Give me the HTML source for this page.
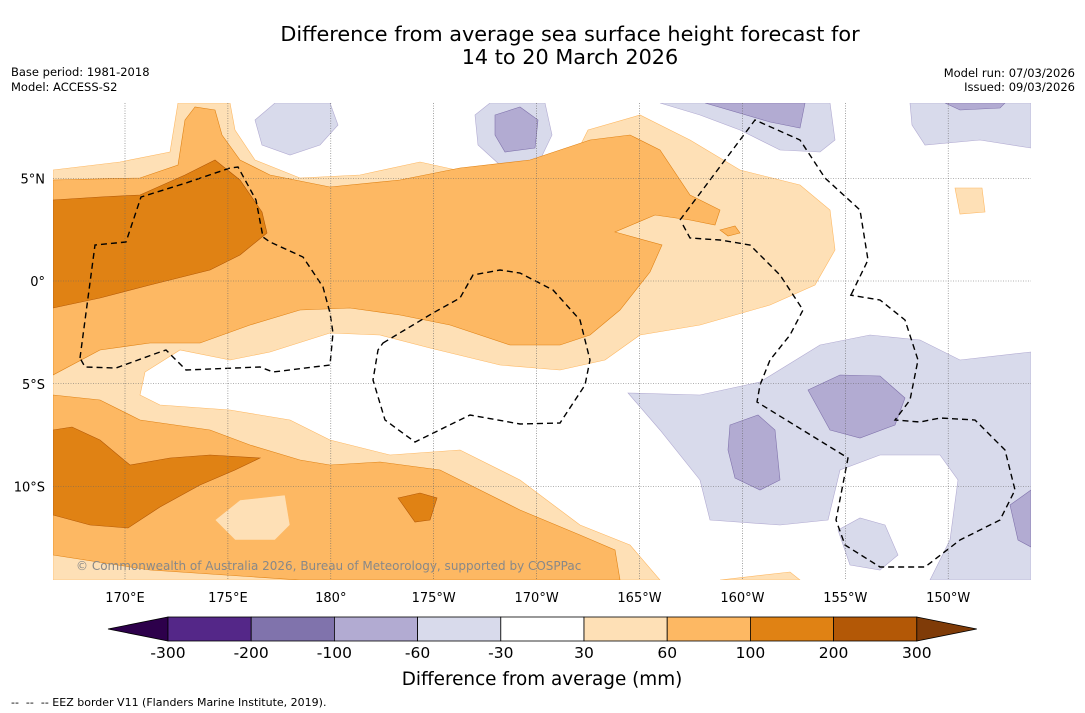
<!DOCTYPE html>
<html><head><meta charset="utf-8"><style>
body{margin:0;background:#fff;font-family:"Liberation Sans","DejaVu Sans",sans-serif}
svg{display:block}
</style></head><body>
<svg width="1085" height="713" viewBox="0 0 1085 713" xmlns="http://www.w3.org/2000/svg" font-family="DejaVu Sans, Liberation Sans, sans-serif">
<rect width="1085" height="713" fill="#fff"/>
<text x="570" y="41" font-size="20.8" text-anchor="middle">Difference from average sea surface height forecast for</text>
<text x="570" y="64" font-size="20.8" text-anchor="middle">14 to 20 March 2026</text>
<text x="11" y="76" font-size="11.5">Base period: 1981-2018</text>
<text x="11" y="91" font-size="11.5">Model: ACCESS-S2</text>
<text x="1075" y="77" font-size="11.5" text-anchor="end">Model run: 07/03/2026</text>
<text x="1075" y="91" font-size="11.5" text-anchor="end">Issued: 09/03/2026</text>

<defs><clipPath id="mc"><rect x="53" y="103" width="978" height="477"/></clipPath></defs>
<g clip-path="url(#mc)" stroke-width="0.6">
<g fill="#d8daeb" stroke="#b2abd2">
<path d="M255,120 L275,103 L330,103 L338,125 L320,145 L290,155 L262,145Z"/>
<path d="M475,115 L490,103 L545,103 L552,135 L540,160 L500,165 L478,145Z"/>
<path d="M660,103 L830,103 L835,140 L820,152 L780,150 L740,130 L700,115Z"/>
<path d="M910,103 L1031,103 L1031,148 L980,140 L925,145 L912,125Z"/>
<path d="M628,393 L700,395 L760,382 L820,345 L870,335 L920,340 L960,360 L1031,352 L1031,580 L930,580 L950,540 L958,480 L940,455 L880,455 L840,470 L828,520 L780,525 L710,520 L700,480 L660,430Z"/>
<path d="M838,530 L860,518 L885,525 L898,555 L880,570 L850,565Z"/>
</g>
<g fill="#b2abd2" stroke="#8073ac">
<path d="M495,115 L520,107 L538,120 L535,148 L505,152 L495,135Z"/>
<path d="M705,103 L805,103 L800,128 L770,122Z"/>
<path d="M945,103 L1005,103 L1000,108 L960,110Z"/>
<path d="M808,390 L840,375 L880,376 L905,398 L895,425 L860,438 L830,430Z"/>
<path d="M730,425 L758,415 L775,430 L780,480 L760,490 L735,478 L728,450Z"/>
<path d="M1010,505 L1031,490 L1031,547 L1018,540Z"/>
</g>
<g fill="#fee0b6" stroke="#fdb863">
<path d="M53,170 L120,162 L170,152 L178,103 L230,103 L235,130 L255,160 L300,178 L360,175 L420,162 L470,173 L530,188 L568,170 L588,130 L640,115 L690,140 L740,170 L800,185 L830,210 L835,250 L815,285 L770,305 L700,325 L640,335 L605,360 L560,370 L500,365 L430,348 L380,335 L330,333 L270,352 L230,360 L180,350 L145,372 L140,395 L160,405 L230,410 L290,420 L330,440 L390,455 L460,450 L520,480 L580,525 L630,545 L660,580 L53,580Z"/>
<path d="M720,580 L790,572 L800,580Z"/>
<path d="M955,188 L982,188 L985,212 L960,214Z"/>
</g>
<g fill="#fdb863" stroke="#e08214">
<path d="M53,180 L140,178 L178,165 L185,120 L195,107 L215,110 L222,135 L240,160 L270,175 L330,187 L400,180 L460,168 L530,160 L560,150 L590,140 L630,135 L660,150 L690,195 L720,210 L715,225 L690,220 L655,215 L615,232 L662,245 L650,272 L620,310 L590,335 L560,345 L510,345 L450,325 L400,315 L350,308 L300,310 L250,325 L200,343 L150,343 L100,350 L53,375Z"/>
<path d="M720,230 L735,226 L740,233 L728,236Z"/>
<path d="M53,395 L100,400 L140,420 L210,430 L250,445 L300,460 L330,465 L380,462 L440,470 L480,490 L520,510 L580,535 L615,550 L620,580 L300,580 L150,570 L53,555Z"/>
</g>
<g fill="#fee0b6" stroke="#fdb863">
<path d="M215,520 L240,500 L285,495 L290,525 L275,540 L235,540Z"/>
</g>
<g fill="#e08214" stroke="#b35806">
<path d="M53,200 L100,197 L140,195 L185,175 L215,160 L240,180 L262,212 L267,233 L240,255 L210,270 L150,285 L100,298 L53,308Z"/>
<path d="M53,430 L72,427 L100,440 L130,465 L170,458 L210,455 L260,458 L235,470 L200,485 L160,507 L128,528 L90,525 L53,515Z"/>
<path d="M398,498 L420,493 L437,498 L430,520 L415,522Z"/>
</g>
<g fill="none" stroke="#000" stroke-width="1.4" stroke-dasharray="6,4">
<path d="M80,358 L95,245 L126,242 L141,197 L186,183 L230,168 L238,167 L256,200 L263,237 L270,242 L303,257 L323,287 L330,313 L333,333 L330,365 L273,372 L260,367 L186,370 L166,350 L160,352 L116,368 L85,367Z"/>
<path d="M383,343 L433,313 L460,298 L473,275 L500,270 L520,273 L553,290 L580,320 L590,360 L585,385 L560,423 L520,424 L470,415 L415,442 L385,420 L373,380 L378,350Z"/>
<path d="M683,225 L690,238 L720,240 L750,245 L780,275 L803,310 L790,335 L770,360 L760,385 L757,402 L848,458 L836,520 L845,545 L880,567 L925,567 L960,540 L1000,520 L1015,490 L1005,450 L975,420 L940,418 L920,422 L895,420 L910,400 L918,360 L905,320 L880,300 L850,295"/>
<path d="M680,220 L755,120 L800,140 L825,178 L860,210 L868,260 L850,297"/>
</g>
<g id="grid" stroke="#666" stroke-width="0.6" stroke-dasharray="1,1.5"></g>
</g>
<text x="76" y="570" font-size="12" fill="#888">© Commonwealth of Australia 2026, Bureau of Meteorology, supported by COSPPac</text>
<g id="lonlabels" font-size="13" text-anchor="middle"></g>
<g id="latlabels" font-size="13" text-anchor="end"></g>
<g id="cbar"></g>
<text x="542" y="685" font-size="18.4" text-anchor="middle">Difference from average (mm)</text>
<text x="11" y="706" font-size="11">-- &#160;-- &#160;-- EEZ border V11 (Flanders Marine Institute, 2019).</text>
</svg>
<script>
const lonLabels=["170°E","175°E","180°","175°W","170°W","165°W","160°W","155°W","150°W"];
const lonValues=[170,175,180,185,190,195,200,205,210];
const latLabels=["5°N","0°","5°S","10°S"];
const latValues=[5,0,-5,-10];
const cbLevels=["-300","-200","-100","-60","-30","30","60","100","200","300"];
const cbColors=["#542788","#8073ac","#b2abd2","#d8daeb","#ffffff","#fee0b6","#fdb863","#e08214","#b35806"];
const NS="http://www.w3.org/2000/svg";
const xL=lon=>125+(lon-170)*20.58;
const yL=lat=>281-lat*20.55;
const g=document.getElementById('grid'),lx=document.getElementById('lonlabels'),ly=document.getElementById('latlabels'),cb=document.getElementById('cbar');
function mk(t,a,p){const e=document.createElementNS(NS,t);for(const k in a)e.setAttribute(k,a[k]);p.appendChild(e);return e;}
lonValues.forEach((v,i)=>{
 const l=mk('line',{x1:xL(v),x2:xL(v),y1:103,y2:580},g);
 
 
 const t=mk('text',{x:xL(v),y:602},lx);t.textContent=lonLabels[i];
 
 
});
latValues.forEach((v,i)=>{
 const l=mk('line',{x1:53,x2:1031,y1:yL(v),y2:yL(v)},g);
 
 
 const t=mk('text',{x:45,y:yL(v)+5},ly);t.textContent=latLabels[i];
 
 
});
const cx0=168,cw=83.2,cy=617,ch=24;
const lt=mk('polygon',{points:`108,${cy+ch/2} ${cx0},${cy} ${cx0},${cy+ch}`,fill:'#2d004b',stroke:'#000','stroke-width':0.8},cb);


cbColors.forEach((c,i)=>{
 const r=mk('rect',{x:cx0+i*cw,y:cy,width:cw,height:ch,fill:c,stroke:'#000','stroke-width':0.8},cb);
 
 
});
const xe=cx0+cbColors.length*cw;
const rt=mk('polygon',{points:`${xe},${cy} ${xe+60},${cy+ch/2} ${xe},${cy+ch}`,fill:'#7f3b08',stroke:'#000','stroke-width':0.8},cb);


cbLevels.forEach((s,i)=>{
 const t=mk('text',{x:cx0+i*cw,y:658,'font-size':15.5,'text-anchor':'middle'},cb);t.textContent=s;
 
 
});
</script>
</body></html>
